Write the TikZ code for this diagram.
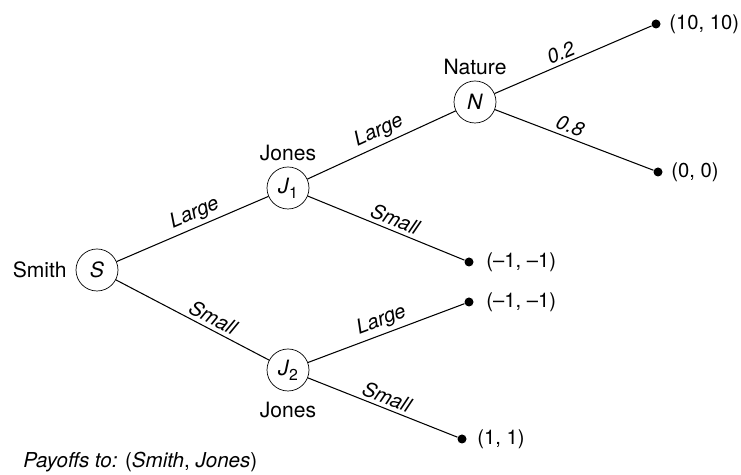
\documentclass[tikz,border=0pt]{standalone}
\usepackage{fontspec}
\setmainfont{TeX Gyre Heros}
\usetikzlibrary{calc}

\newcommand{\plyr}[2]{\textit{#1}\raisebox{-0.45ex}{\small #2}}

\tikzset{
	decision/.style={draw, circle, minimum size=42*0.02cm, inner sep=0pt, font=\fontsize{12}{14}\selectfont},
	leaf/.style={circle, fill=black, minimum size=9*0.02cm, inner sep=0pt},
	branch/.style={line width=0.6pt},
	choice/.style={sloped, above, font=\fontsize{11.5}{13}\selectfont\itshape, inner sep=2pt},
	who/.style={font=\fontsize{12}{14}\selectfont, inner sep=0pt},
	payoff/.style={anchor=west, font=\fontsize{11.5}{13}\selectfont, inner sep=0pt}
}

\begin{document}
\begin{tikzpicture}[x=0.02cm, y=-0.02cm]
		\useasboundingbox (0, 0) rectangle (741, 475);
		% players
		\node(S)[decision] at (97, 270) {\textit{S}};
		\node(J1)[decision] at (288, 188) {\plyr{J}{1}};
		\node(J2)[decision] at (288, 370) {\plyr{J}{2}};
		\node(N)[decision] at (475, 102) {\textit{N}};
		\node(smith)[who, anchor=east] at (67, 270) {Smith};
		\node(jones1)[who] at (288, 153) {Jones};
		\node(nature)[who] at (475, 67) {Nature};
		\node(jones2)[who] at (288, 410) {Jones};
		% end points
		\node(t1)[leaf] at (656, 24) {};
		\node(t2)[leaf] at (658, 172) {};
		\node(t3)[leaf] at (469, 262) {};
		\node(t4)[leaf] at (469, 302) {};
		\node(t5)[leaf] at (462, 439) {};
		\node(p1)[payoff] at (669, 24) {(10, 10)};
		\node(p2)[payoff] at (671, 172) {(0, 0)};
		\node(p3)[payoff] at (486, 262) {(--1, --1)};
		\node(p4)[payoff] at (486, 302) {(--1, --1)};
		\node(p5)[payoff] at (477, 439) {(1, 1)};
		% branches
		\draw[branch] (S) -- node[choice, pos=0.55] {Large} (J1);
		\draw[branch] (S) -- node[choice, pos=0.6] {Small} (J2);
		\draw[branch] (J1) -- node[choice, pos=0.52] {Large} (N);
		\draw[branch] (J1) -- node[choice, pos=0.53] {Small} (t3);
		\draw[branch] (J2) -- node[choice, pos=0.5] {Large} (t4);
		\draw[branch] (J2) -- node[choice, pos=0.5] {Small} (t5);
		\draw[branch] (N) -- node[choice, pos=0.45] {0.2} (t1);
		\draw[branch] (N) -- node[choice, pos=0.45] {0.8} (t2);
		\node(note)[anchor=west, inner sep=0pt, font=\fontsize{11.7}{13}\selectfont] at (23, 462) {\textit{Payoffs to:} (\textit{Smith}, \textit{Jones})};
\end{tikzpicture}
\end{document}
